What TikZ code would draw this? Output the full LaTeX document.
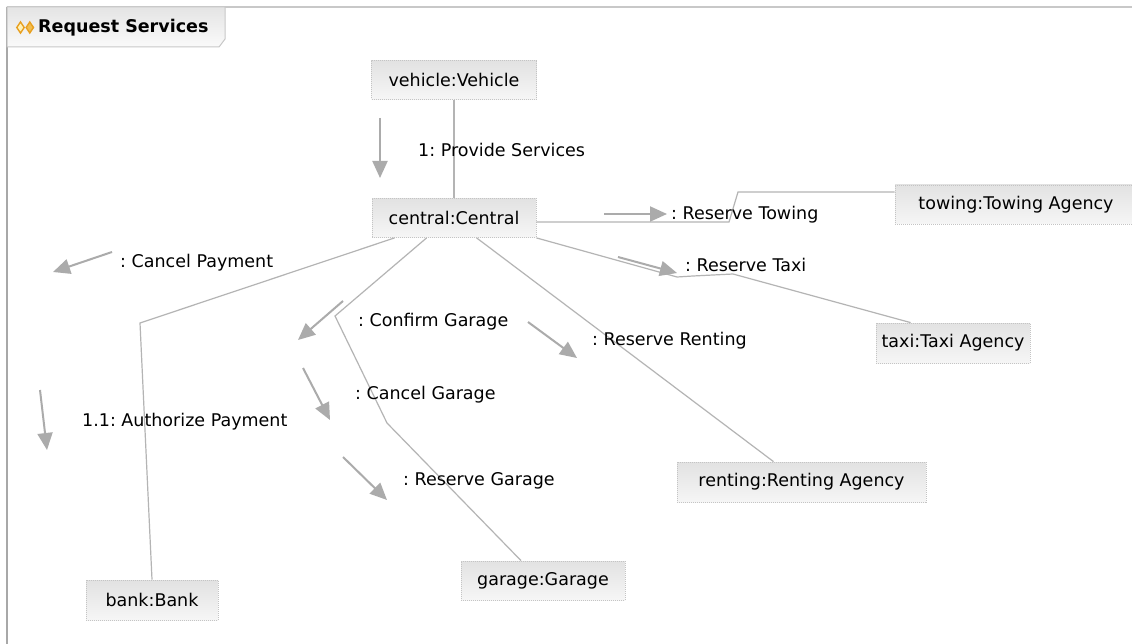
\documentclass[tikz,border=0pt]{standalone}
\usepackage{fontspec}
\setmainfont{DejaVu Sans}
\usetikzlibrary{arrows.meta,calc}
\definecolor{linegray}{HTML}{B4B4B4}
\definecolor{arrowgray}{HTML}{ABABAB}
\definecolor{boxtop}{HTML}{E2E2E2}
\definecolor{boxbot}{HTML}{F6F6F6}
\definecolor{boxline}{HTML}{C4C4C4}
\definecolor{framegray}{HTML}{A8A8A8}
\definecolor{toplinegray}{HTML}{C8C8C8}
\definecolor{tabtop}{HTML}{E4E4E4}
\definecolor{tabbot}{HTML}{FAFAFA}
\definecolor{diamondor}{HTML}{E8A020}
\definecolor{diamondfill}{HTML}{F2BE50}
\definecolor{diamondpale}{HTML}{FFF2B8}
\frenchspacing

\begin{document}
\begin{tikzpicture}[x=1pt,y=-1pt,
  font=\fontsize{17.5}{20}\selectfont,
  obj/.style={draw=boxline, line width=0.8pt, dash pattern=on 1pt off 1pt,
    top color=boxtop, bottom color=boxbot, minimum height=39pt,
    inner sep=0pt, text=black},
  conn/.style={draw=linegray, line width=1.2pt},
  msg/.style={draw=arrowgray, line width=2pt,
    -{Triangle[length=17pt,width=15pt]}},
  lbl/.style={anchor=west, inner sep=0pt, text=black}]

% canvas
\useasboundingbox (0,0) rectangle (1132,644);
\fill[white] (0,0) rectangle (1132,644);

% frame and title tab
\draw[toplinegray, line width=1.5pt] (7,7) -- (1132,7);
\draw[framegray, line width=1.8pt] (7,7) -- (7,644);
\path[top color=tabtop, bottom color=tabbot, draw=toplinegray, line width=1pt]
  (7,7) -- (225,7) -- (225,39) -- (219,47) -- (7,47) -- cycle;
\filldraw[fill=diamondpale, draw=diamondor, line width=1.4pt]
  (20.5,22) -- (24.2,27.5) -- (20.5,33) -- (16.8,27.5) -- cycle;
\filldraw[fill=diamondfill, draw=diamondor, line width=1.4pt]
  (29.8,22) -- (33.5,27.5) -- (29.8,33) -- (26.1,27.5) -- cycle;
\node[lbl, font=\bfseries\fontsize{17.5}{20}\selectfont] (title) at (38,27.5) {Request Services};

% objects
\node[obj, minimum width=165pt] (vehicle) at (454,80) {vehicle:Vehicle};
\node[obj, minimum width=164pt] (central) at (454,218) {central:Central};
\node[obj, minimum width=242pt] (towing) at (1016,204.5) {towing:Towing Agency};
\node[obj, minimum width=154pt, minimum height=40pt] (taxi) at (953,343) {taxi:Taxi Agency};
\node[obj, minimum width=249pt, minimum height=40pt] (renting) at (801.5,482) {renting:Renting Agency};
\node[obj, minimum width=164pt] (garage) at (543,580.5) {garage:Garage};
\node[obj, minimum width=132pt, minimum height=40pt] (bank) at (152,600) {bank:Bank};

% links
\draw[conn] (vehicle.south) -- (vehicle.south |- central.north);

\coordinate (tw1) at (729,222);
\coordinate (tw2) at (738,192);
\draw[conn] (central.east |- tw1) -- (tw1) -- (tw2) -- (towing.west |- tw2);

\coordinate (tx1) at (677,277);
\coordinate (tx2) at (693,276);
\coordinate (tx3) at (733,274);
\draw[conn] (central.south east) -- (tx1) -- (tx2) -- (tx3) -- ([xshift=35pt]taxi.north west);

\draw[conn] ([xshift=105pt]central.south west) -- ([xshift=-28pt]renting.north);

\coordinate (gr1) at (335,316);
\coordinate (gr2) at (387,423);
\draw[conn] ([xshift=55pt]central.south west) -- (gr1) -- (gr2) -- ([xshift=-22pt]garage.north);

\coordinate (bk1) at (140,323);
\draw[conn] ([xshift=23pt]central.south west) -- (bk1) -- (bank.north);

% messages
\coordinate (m1a) at (380,118);  \coordinate (m1b) at (380,178);
\coordinate (m2a) at (604,214);  \coordinate (m2b) at (667,214);
\coordinate (m3a) at (618,257);  \coordinate (m3b) at (677,273);
\coordinate (m4a) at (112,252);  \coordinate (m4b) at (53,272);
\coordinate (m5a) at (40,390);   \coordinate (m5b) at (47,450);
\coordinate (m6a) at (343,301);  \coordinate (m6b) at (298,340);
\coordinate (m7a) at (303,368);  \coordinate (m7b) at (330,420);
\coordinate (m8a) at (343,457);  \coordinate (m8b) at (387,500);
\coordinate (m9a) at (528,322);  \coordinate (m9b) at (577,358);
\foreach \m in {1,...,9} \draw[msg] (m\m a) -- (m\m b);

% message labels
\node[lbl] (l1) at (418,150) {1: Provide Services};
\node[lbl] (l2) at (671,215) {: Reserve Towing};
\node[lbl] (l3) at (685,265) {: Reserve Taxi};
\node[lbl] (l4) at (120,263) {: Cancel Payment};
\node[lbl] (l5) at (82,422) {1.1: Authorize Payment};
\node[lbl] (l6) at (358,322) {: Confirm Garage};
\node[lbl] (l7) at (355,395) {: Cancel Garage};
\node[lbl] (l8) at (403,481) {: Reserve Garage};
\node[lbl] (l9) at (592,341) {: Reserve Renting};
\end{tikzpicture}
\end{document}
